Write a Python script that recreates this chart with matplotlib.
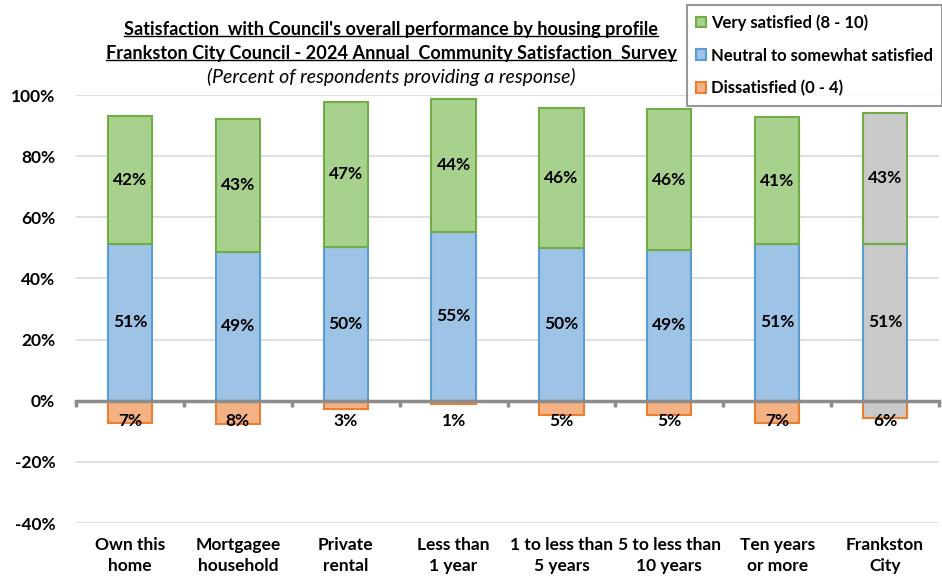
import matplotlib
matplotlib.use('Agg')
import matplotlib.pyplot as plt
import matplotlib.transforms as mtransforms
import numpy as np

plt.rcParams['font.family'] = ['Lato', 'DejaVu Sans']
plt.rcParams['font.weight'] = 'bold'

categories = ['Own this\nhome', 'Mortgagee\nhousehold', 'Private\nrental', 'Less than\n1 year',
              '1 to less than\n5 years', '5 to less than\n10 years', 'Ten years\nor more', 'Frankston\nCity']
neutral = [51.3, 48.7, 50.3, 55.2, 50.0, 49.3, 51.3, 51.3]
very_sat = [41.8, 43.4, 47.4, 43.5, 45.6, 46.1, 41.4, 42.8]
dissat = [7.2, 7.6, 2.6, 1.0, 4.6, 4.6, 7.2, 5.6]
series_names = ['Very satisfied (8 - 10)', 'Neutral to somewhat satisfied', 'Dissatisfied (0 - 4)']
title_lines = ["Satisfaction  with Council's overall performance by housing profile",
               "Frankston City Council - 2024 Annual  Community Satisfaction  Survey"]
subtitle = '(Percent of respondents providing a response)'

green, green_e = '#A9D18E', '#70AD47'
blue, blue_e = '#9DC3E6', '#5B9BD5'
orange, orange_e = '#F4B183', '#ED7D31'
grey = '#C9C9C9'

fig = plt.figure(figsize=(9.42, 5.77), dpi=100)
ax = fig.add_axes([76 / 942, 1 - 523 / 577, 863 / 942, (523 - 95) / 577])

x = np.arange(len(categories))
w = 0.41
n = len(categories)
fc_g = [green] * (n - 1) + [grey]
fc_b = [blue] * (n - 1) + [grey]
fc_o = [orange] * (n - 1) + [grey]

b_neu = ax.bar(x, neutral, w, color=fc_b, edgecolor=blue_e, linewidth=1.5, zorder=3)
b_vs = ax.bar(x, very_sat, w, bottom=neutral, color=fc_g, edgecolor=green_e, linewidth=1.5, zorder=3)
b_dis = ax.bar(x, [-d for d in dissat], w, color=fc_o, edgecolor=orange_e, linewidth=1.5, zorder=3)

fs = 12.5
for i in range(n):
    ax.text(x[i], neutral[i] / 2, f'{round(neutral[i]):.0f}%', ha='center', va='center', fontsize=fs, zorder=5)
    ax.text(x[i], neutral[i] + very_sat[i] / 2, f'{round(very_sat[i]):.0f}%', ha='center', va='center',
            fontsize=fs, zorder=5)
    ax.text(x[i], -6.5, f'{round(dissat[i]):.0f}%', ha='center', va='center', fontsize=fs, zorder=5)

ax.set_ylim(-40, 100)
ax.set_xlim(-0.5, n - 0.5)
ax.set_yticks(np.arange(-40, 101, 20))
ax.set_yticklabels([f'{v}%' for v in range(-40, 101, 20)], fontsize=fs)
ax.tick_params(axis='y', length=0, pad=15)
ax.grid(axis='y', color='#D9D9D9', linewidth=1.2, zorder=0)
ax.set_axisbelow(True)
for s in ['top', 'right', 'left']:
    ax.spines[s].set_visible(False)
ax.spines['bottom'].set_position(('data', 0))
ax.spines['bottom'].set_color('#8C8C8C')
ax.spines['bottom'].set_linewidth(2.5)
ax.spines['bottom'].set_zorder(4)
ax.set_xticks(np.arange(n + 1) - 0.5)
ax.set_xticklabels([])
ax.tick_params(axis='x', direction='out', length=4, width=2.5, color='#8C8C8C')

trans = mtransforms.blended_transform_factory(ax.transData, ax.transAxes)
for i, c in enumerate(categories):
    ax.text(x[i], -0.033, c, transform=trans, ha='center', va='top', fontsize=fs, linespacing=1.35)

# titles
tx = 391 / 942
t1 = fig.text(tx, 1 - 29 / 577, title_lines[0], ha='center', va='center', fontsize=13.1)
t2 = fig.text(tx, 1 - 53 / 577, title_lines[1], ha='center', va='center', fontsize=13.1)
fig.text(tx, 1 - 77 / 577, subtitle, ha='center', va='center', fontsize=14,
         style='italic', weight='normal')

fig.canvas.draw()
r = fig.canvas.get_renderer()
for t in (t1, t2):
    bb = t.get_window_extent(r).transformed(fig.transFigure.inverted())
    fig.add_artist(plt.Line2D([bb.x0, bb.x1], [bb.y0 + 0.002, bb.y0 + 0.002], color='black',
                              linewidth=1.0, transform=fig.transFigure))

leg = fig.legend([b_vs[0], b_neu[0], b_dis[0]], series_names, loc='upper right',
                 bbox_to_anchor=(1.0, 0.991), fontsize=12, frameon=True, fancybox=False,
                 handlelength=0.6, handleheight=0.6, handletextpad=0.3, labelspacing=1.0,
                 borderpad=0.55, borderaxespad=0.0)
leg.get_frame().set_edgecolor('#7F7F7F')
leg.get_frame().set_linewidth(1.5)
for h, c in zip(leg.legend_handles, [green, blue, orange]):
    h.set_facecolor(c)

fig.savefig('out.png', dpi=100)
plt.close(fig)
